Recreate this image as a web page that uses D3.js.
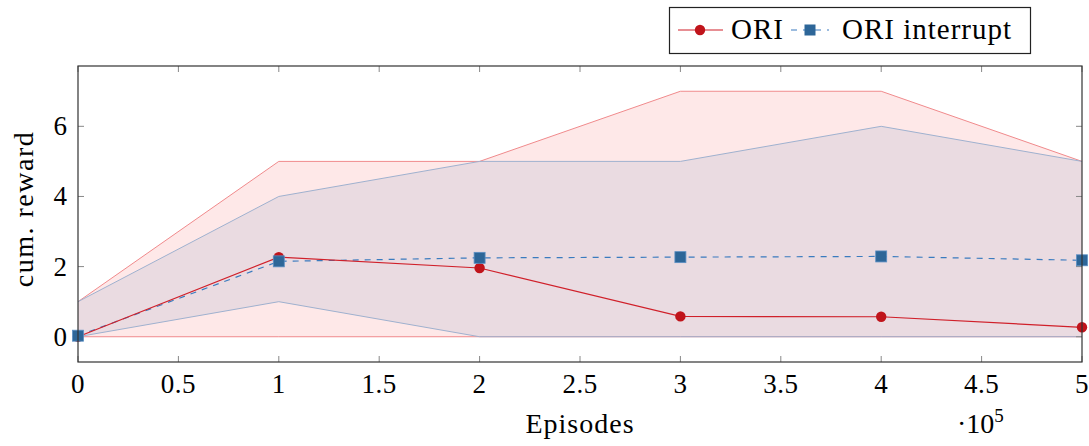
<!DOCTYPE html>
<html>
<head>
<meta charset="utf-8">
<script src="https://cdn.jsdelivr.net/npm/d3@7"></script>
<style>
  body { margin: 0; background: #fff; }
</style>
</head>
<body>
<div id="chart"></div>
<script>
// episodes in units of 10^5
const episodes = [0, 1, 2, 3, 4, 5];

const oriMean = [0.0, 2.27, 1.96, 0.58, 0.57, 0.27];
const oriUpper = [1, 5, 5, 7, 7, 5];
const oriLower = [0, 0, 0, 0, 0, 0];

const intMean = [0.03, 2.15, 2.25, 2.27, 2.29, 2.18];
const intUpper = [1, 4, 5, 5, 6, 5];
const intLower = [0, 1, 0, 0, 0, 0];

const xTicks = [0, 0.5, 1, 1.5, 2, 2.5, 3, 3.5, 4, 4.5, 5];
const yTicks = [0, 2, 4, 6];

const W = 1089, H = 446;
const margin = {left: 78, right: 7, top: 66, bottom: 84};
const FONT = '"Liberation Serif", "DejaVu Serif", "Times New Roman", serif';

const svg = d3.select('#chart').append('svg')
    .attr('width', W)
    .attr('height', H)
    .attr('font-family', FONT);

const x = d3.scaleLinear().domain([0, 5]).range([margin.left, W - margin.right]);
const y = d3.scaleLinear().domain([-0.72, 7.72]).range([H - margin.bottom, margin.top]);

const red = '#d0202a', redDark = '#c0141b';
const blue = '#3a7bbf', blueDark = '#2d6698';

function band(upper, lower) {
    return d3.area()
        .x((d, i) => x(episodes[i]))
        .y0((d, i) => y(lower[i]))
        .y1((d, i) => y(upper[i]))(upper);
}
function edge(vals) {
    return d3.line().x((d, i) => x(episodes[i])).y(d => y(d))(vals);
}

// red band
svg.append('path').attr('d', band(oriUpper, oriLower))
    .style('fill', '#f52a2a').style('fill-opacity', 0.11);
svg.append('path').attr('d', edge(oriUpper)).style('fill', 'none')
    .style('stroke', '#f08a8c').style('stroke-width', 1);
svg.append('path').attr('d', edge(oriLower)).style('fill', 'none')
    .style('stroke', '#f08a8c').style('stroke-width', 1);

// blue band
svg.append('path').attr('d', band(intUpper, intLower))
    .style('fill', '#3c6aa8').style('fill-opacity', 0.1);
svg.append('path').attr('d', edge(intUpper)).style('fill', 'none')
    .style('stroke', '#9fb1cf').style('stroke-width', 1);
svg.append('path').attr('d', edge(intLower)).style('fill', 'none')
    .style('stroke', '#9fb1cf').style('stroke-width', 1);

// ticks (inside, all four sides)
const tickLen = 6;
const ticks = svg.append('g').style('stroke', '#888').style('stroke-width', 1);
xTicks.forEach(t => {
    ticks.append('line').attr('x1', x(t)).attr('x2', x(t))
        .attr('y1', y.range()[0]).attr('y2', y.range()[0] - tickLen);
    ticks.append('line').attr('x1', x(t)).attr('x2', x(t))
        .attr('y1', y.range()[1]).attr('y2', y.range()[1] + tickLen);
});
yTicks.forEach(t => {
    ticks.append('line').attr('y1', y(t)).attr('y2', y(t))
        .attr('x1', x.range()[0]).attr('x2', x.range()[0] + tickLen);
    ticks.append('line').attr('y1', y(t)).attr('y2', y(t))
        .attr('x1', x.range()[1]).attr('x2', x.range()[1] - tickLen);
});

// mean lines
svg.append('path').attr('d', edge(intMean)).style('fill', 'none')
    .style('stroke', blue).style('stroke-width', 1.2)
    .style('stroke-dasharray', '6,6');
svg.append('path').attr('d', edge(oriMean)).style('fill', 'none')
    .style('stroke', red).style('stroke-width', 1.2);

svg.selectAll('.ori').data(oriMean).enter().append('circle')
    .attr('class', 'ori')
    .attr('cx', (d, i) => x(episodes[i]))
    .attr('cy', d => y(d))
    .attr('r', 5.2)
    .style('fill', redDark);

const sq = 11;
svg.selectAll('.int').data(intMean).enter().append('rect')
    .attr('class', 'int')
    .attr('x', (d, i) => x(episodes[i]) - sq / 2)
    .attr('y', d => y(d) - sq / 2)
    .attr('width', sq).attr('height', sq)
    .style('fill', blueDark)
    .style('stroke', '#5b8fc4').style('stroke-width', 0.8);

// frame
svg.append('rect')
    .attr('x', x.range()[0]).attr('y', y.range()[1])
    .attr('width', x.range()[1] - x.range()[0])
    .attr('height', y.range()[0] - y.range()[1])
    .style('fill', 'none').style('stroke', '#333').style('stroke-width', 1.2);

// tick labels
svg.selectAll('.xl').data(xTicks).enter().append('text')
    .attr('x', d => x(d)).attr('y', 393)
    .attr('text-anchor', 'middle')
    .attr('font-size', 27).attr('letter-spacing', 0.5)
    .text(d => d);
svg.selectAll('.yl').data(yTicks).enter().append('text')
    .attr('x', 67).attr('y', d => y(d) + 9)
    .attr('text-anchor', 'end')
    .attr('font-size', 27)
    .text(d => d);

// axis labels
svg.append('text').attr('x', 580).attr('y', 433)
    .attr('text-anchor', 'middle').attr('font-size', 28).attr('letter-spacing', 1)
    .text('Episodes');
const sc = svg.append('text').attr('x', 957).attr('y', 433).attr('font-size', 28);
sc.append('tspan').text('\u00b710');
sc.append('tspan').attr('dy', -11).attr('font-size', 19).text('5');

svg.append('text')
    .attr('transform', 'translate(33,209) rotate(-90)')
    .attr('text-anchor', 'middle').attr('font-size', 28).attr('letter-spacing', 1.5)
    .text('cum. reward');

// legend
const lg = svg.append('g');
lg.append('rect').attr('x', 669.5).attr('y', 7.5).attr('width', 361).attr('height', 46)
    .style('fill', '#fff').style('stroke', '#222').style('stroke-width', 1.2);
lg.append('line').attr('x1', 678).attr('x2', 723).attr('y1', 30).attr('y2', 30)
    .style('stroke', red).style('stroke-width', 1.2);
lg.append('circle').attr('cx', 700).attr('cy', 30).attr('r', 5.2).style('fill', redDark);
lg.append('text').attr('x', 731).attr('y', 38.5).attr('font-size', 29).attr('letter-spacing', 1)
    .text('ORI');
lg.append('line').attr('x1', 789).attr('x2', 829).attr('y1', 30).attr('y2', 30)
    .style('stroke', blue).style('stroke-width', 1.2).style('stroke-dasharray', '6,6')
    .style('stroke-dashoffset', -2);
lg.append('rect').attr('x', 810 - sq / 2).attr('y', 30 - sq / 2).attr('width', sq).attr('height', sq)
    .style('fill', blueDark);
lg.append('text').attr('x', 842).attr('y', 38.5).attr('font-size', 29).attr('letter-spacing', 1)
    .text('ORI interrupt');
</script>
</body>
</html>
